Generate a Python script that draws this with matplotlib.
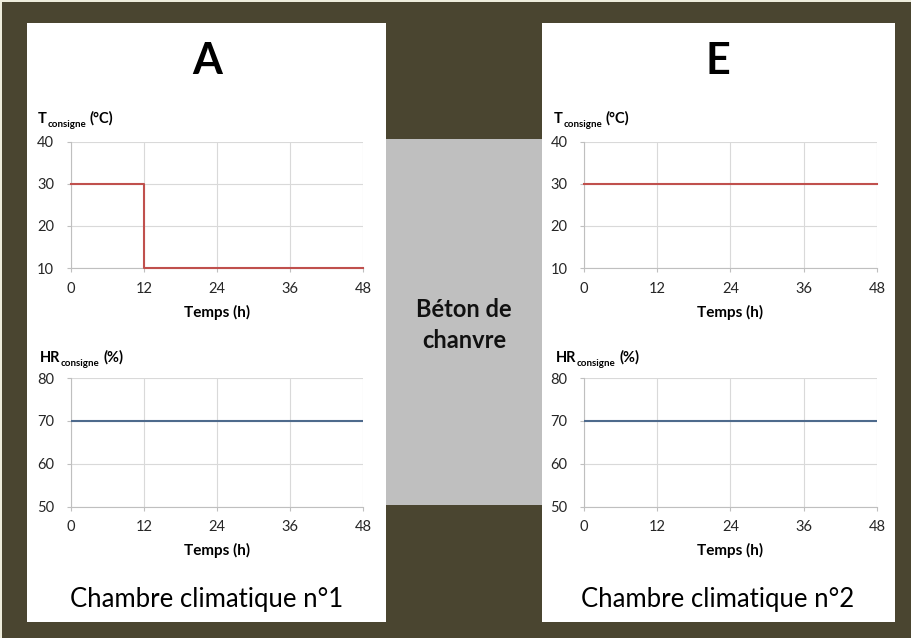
import matplotlib
matplotlib.use("Agg")
import matplotlib.pyplot as plt
from matplotlib.patches import Rectangle

plt.rcParams['font.family'] = ['Lato', 'DejaVu Sans']

# data
time_A = [0, 12, 48]
temp_A = [30, 10, 10]
time_E = [0, 48]
temp_E = [30, 30]
time_hr = [0, 48]
hr_A = [70, 70]
hr_E = [70, 70]
x_ticks = [0, 12, 24, 36, 48]
t_ticks = [10, 20, 30, 40]
hr_ticks = [50, 60, 70, 80]
panel_titles = ['A', 'E']
chamber_names = ['Chambre climatique n°1', 'Chambre climatique n°2']
middle_text = 'Béton de\nchanvre'

W, H = 912, 638
BG = '#4a4530'
GREY = '#bfbfbf'
RED = '#c0504d'
BLUE = '#4e6a8c'
TXT = '#262626'


def fx(px):
    return px / W


def fy(py):
    return 1 - py / H


fig = plt.figure(figsize=(W / 100, H / 100), dpi=100, facecolor=BG)


def add_box(x0, y0, x1, y1, color):
    # rectangle given in pixel coords of the reference (y down)
    fig.patches.append(Rectangle((fx(x0), fy(y1)), (x1 - x0) / W, (y1 - y0) / H,
                                 transform=fig.transFigure, facecolor=color,
                                 edgecolor='none', zorder=-10))


add_box(0, 0, W, 2, '#eeeddc')
add_box(0, 0, 2, H, '#eeeddc')
add_box(386, 139, 542, 505, GREY)
add_box(27, 23, 386, 622, 'white')
add_box(542, 23, 895, 622, 'white')


def style_axis(ax, yticks):
    ax.set_xlim(0, 48)
    ax.set_ylim(yticks[0], yticks[-1])
    ax.set_xticks(x_ticks)
    ax.set_yticks(yticks)
    ax.grid(True, color='#d9d9d9', lw=0.8)
    ax.set_axisbelow(True)
    for s in ['top', 'right']:
        ax.spines[s].set_visible(False)
    for s in ['left', 'bottom']:
        ax.spines[s].set_color(GREY)
        ax.spines[s].set_linewidth(0.8)
    ax.tick_params(axis='both', colors=GREY, labelcolor=TXT, labelsize=10.5,
                   length=3, width=0.8)
    ax.tick_params(axis='x', pad=7)
    ax.tick_params(axis='y', pad=9)
    ax.set_facecolor('none')


def label_with_sub(ax, x, y, main, unit):
    t = ax.annotate(main, xy=(fx(x), fy(y)), xycoords='figure fraction',
                    fontsize=10.5, weight='bold', color='black', va='baseline',
                    annotation_clip=False)
    s = ax.annotate('consigne', xy=(1, 0), xycoords=t, xytext=(0.3, -2.4),
                    textcoords='offset points', fontsize=7, weight='bold',
                    color='black', va='bottom', annotation_clip=False)
    ax.annotate(unit, xy=(1, 0), xycoords=(s, t), xytext=(2.8, 0),
                textcoords='offset points', fontsize=10.5, weight='bold',
                color='black', va='bottom', annotation_clip=False)


panels = [
    (70.7, 363, time_A, temp_A, hr_A, 38, 207),
    (584, 877, time_E, temp_E, hr_E, 554, 718),
]

for i, (x0, x1, tt, tv, hv, lx, cx) in enumerate(panels):
    ax_t = fig.add_axes([fx(x0), fy(268), (x1 - x0) / W, (268 - 142) / H])
    ax_t.plot(tt, tv, color=RED, lw=1.5, drawstyle='steps-post', zorder=3,
              clip_on=False)
    style_axis(ax_t, t_ticks)

    ax_h = fig.add_axes([fx(x0), fy(506.5), (x1 - x0) / W, (506.5 - 378) / H])
    ax_h.plot(time_hr, hv, color=BLUE, lw=1.5, zorder=3)
    style_axis(ax_h, hr_ticks)

    mid = (x0 + x1) / 2
    fig.text(fx(mid), fy(312), 'Temps (h)', ha='center', va='center',
             fontsize=11, weight='bold', color='black')
    fig.text(fx(mid), fy(550), 'Temps (h)', ha='center', va='center',
             fontsize=11, weight='bold', color='black')

    label_with_sub(ax_t, lx, 123, 'T', '(°C)')
    label_with_sub(ax_h, lx + 2, 362, 'HR', '(%)')

    fig.text(fx(cx), fy(61), panel_titles[i], ha='center', va='center',
             fontsize=31, weight='bold', color='black')
    fig.text(fx(cx), fy(600), chamber_names[i], ha='center', va='center',
             fontsize=18.5, color='black')

fig.text(fx(464), fy(325), middle_text, ha='center', va='center',
         fontsize=17, weight='bold', color='#111111', linespacing=1.45)

fig.savefig('out.png', dpi=100, facecolor=BG)
